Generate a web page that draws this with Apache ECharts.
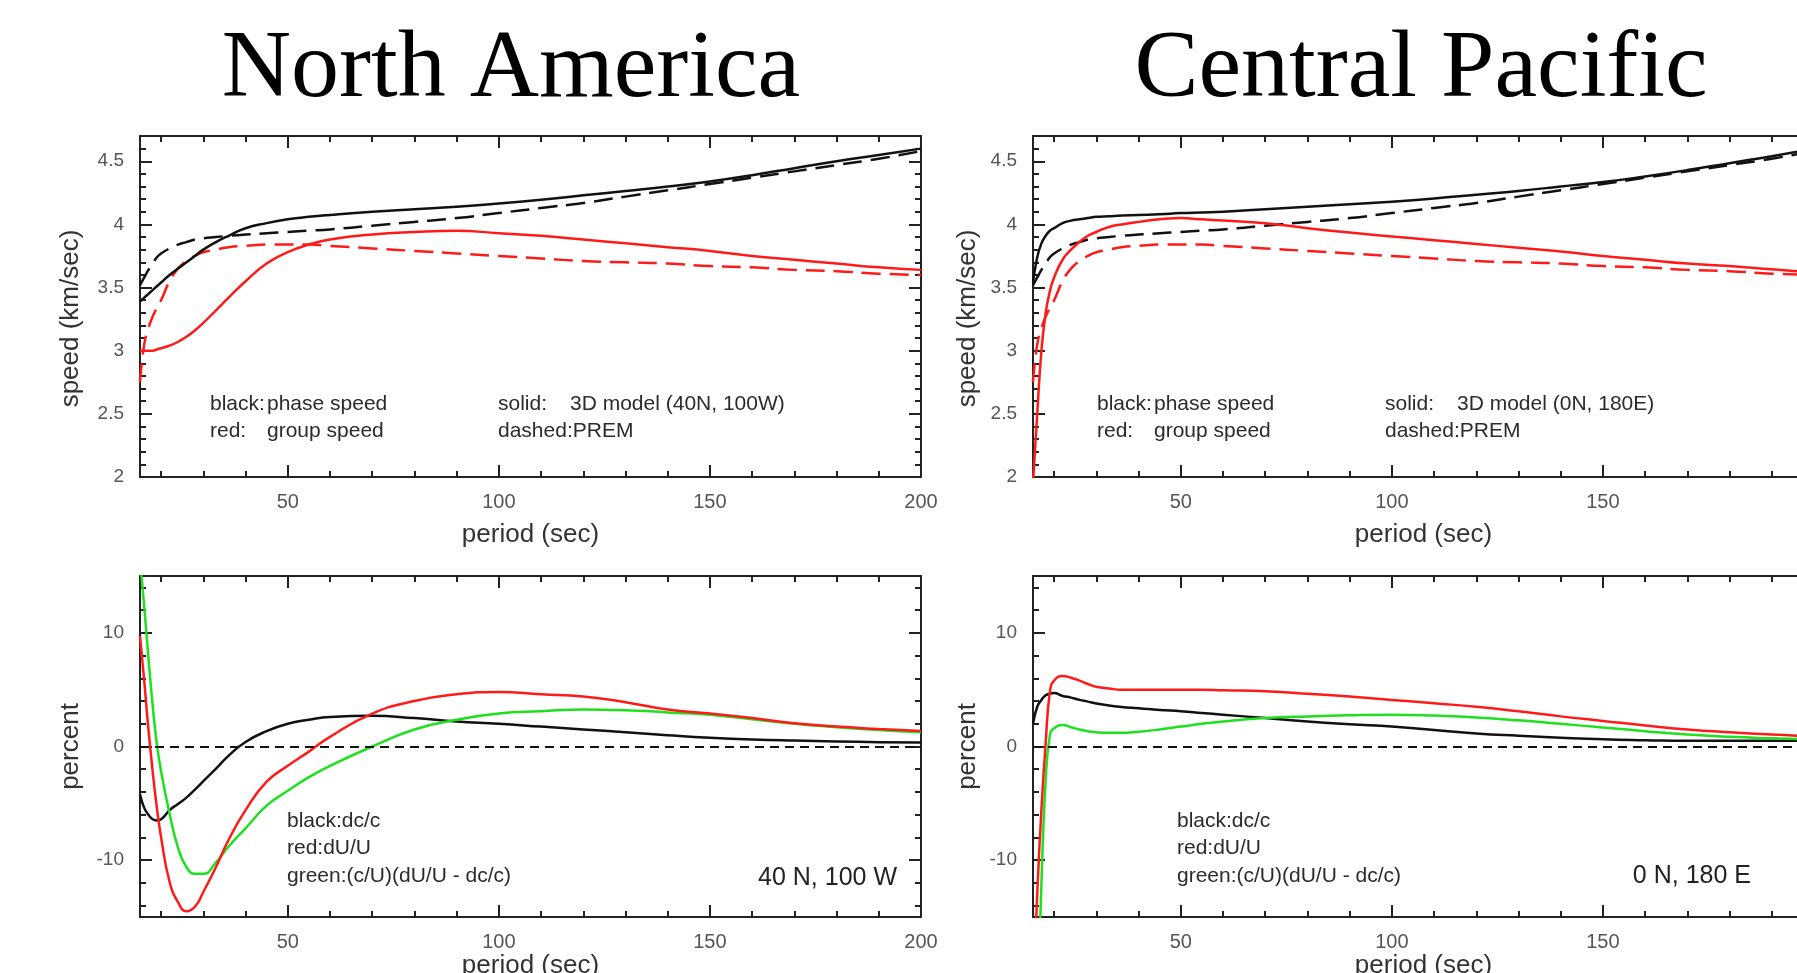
<!DOCTYPE html>
<html>
<head>
<meta charset="utf-8">
<script src="https://cdn.jsdelivr.net/npm/echarts@6.0.0/dist/echarts.min.js"></script>
<style>
html,body{margin:0;padding:0;background:#ffffff;}
#chart{width:1797px;height:973px;}
</style>
</head>
<body>
<div id="chart"></div>
<script>
// ---------- data ----------
const periods = [15,16,17,18,19,20,22,24,26,28,30,33,36,40,45,50,55,60,70,80,90,100,110,120,130,140,150,160,170,180,190,200];

// PREM (1D reference model) – same in both regions
const premPhase = [3.52,3.58,3.64,3.69,3.74,3.77,3.81,3.84,3.86,3.88,3.89,3.90,3.91,3.92,3.93,3.94,3.95,3.96,3.99,4.02,4.05,4.09,4.13,4.17,4.22,4.27,4.32,4.37,4.42,4.47,4.52,4.58];
const premGroup = [2.75,3.05,3.18,3.27,3.34,3.40,3.55,3.65,3.71,3.75,3.78,3.80,3.82,3.83,3.84,3.84,3.84,3.83,3.81,3.79,3.77,3.75,3.73,3.71,3.70,3.69,3.67,3.66,3.64,3.63,3.61,3.60];

// North America (40N, 100W) 3D model
const naPhase3D = [3.39,3.42,3.45,3.48,3.51,3.54,3.60,3.65,3.70,3.75,3.80,3.86,3.91,3.97,4.01,4.04,4.06,4.075,4.10,4.12,4.14,4.165,4.195,4.23,4.265,4.30,4.34,4.39,4.445,4.50,4.55,4.60];
const naGroup3D = [3.00,3.00,3.00,3.00,3.01,3.02,3.04,3.07,3.11,3.16,3.22,3.32,3.42,3.55,3.69,3.78,3.84,3.88,3.92,3.94,3.95,3.93,3.91,3.88,3.85,3.82,3.79,3.75,3.72,3.69,3.66,3.64];
const naDcC   = [-4.2,-5.4,-6.0,-6.4,-6.5,-6.4,-5.6,-5.05,-4.5,-3.8,-3.05,-1.95,-0.8,0.4,1.35,2.0,2.35,2.6,2.7,2.5,2.2,2.0,1.75,1.5,1.25,1.0,0.78,0.62,0.52,0.45,0.38,0.35];
const naDUU   = [9.7,5.8,1.5,-2.2,-5.4,-8.0,-11.9,-13.7,-14.5,-14.1,-12.8,-10.6,-8.2,-5.6,-3.1,-1.7,-0.45,0.85,2.9,4.0,4.6,4.8,4.6,4.4,3.9,3.25,2.9,2.5,2.05,1.75,1.55,1.37];
const naCorr  = [16.5,12.3,7.8,3.6,0.2,-2.2,-5.9,-8.9,-10.6,-11.2,-11.2,-10.2,-8.8,-7.2,-5.2,-3.9,-2.7,-1.7,0.0,1.5,2.35,2.9,3.1,3.25,3.2,3.0,2.8,2.4,2.0,1.7,1.45,1.25];

// Central Pacific (0N, 180E) 3D model
const cpPhase3D = [3.54,3.74,3.85,3.91,3.95,3.97,4.01,4.03,4.04,4.05,4.06,4.065,4.07,4.075,4.08,4.09,4.095,4.10,4.12,4.14,4.16,4.18,4.205,4.235,4.265,4.30,4.335,4.38,4.43,4.485,4.54,4.60];
const cpGroup3D = [1.95,2.5,3.0,3.3,3.47,3.58,3.72,3.80,3.86,3.91,3.94,3.98,4.00,4.02,4.04,4.05,4.04,4.03,4.01,3.97,3.935,3.905,3.875,3.845,3.815,3.785,3.75,3.72,3.69,3.67,3.645,3.62];
const cpDcC   = [2.0,3.5,4.1,4.5,4.65,4.7,4.45,4.3,4.1,3.95,3.78,3.6,3.48,3.37,3.22,3.1,2.95,2.8,2.5,2.2,1.95,1.75,1.45,1.15,0.95,0.78,0.64,0.56,0.5,0.5,0.5,0.5];
const cpDUU   = [-22,-13,-5.5,0.3,4.8,5.8,6.2,6.05,5.8,5.5,5.25,5.1,5.0,5.0,5.0,5.0,5.0,4.95,4.85,4.65,4.4,4.1,3.8,3.5,3.1,2.65,2.25,1.85,1.5,1.25,1.05,0.9];
const cpCorr  = [-35,-24,-12,-3,1.0,1.6,1.9,1.7,1.5,1.35,1.25,1.2,1.2,1.3,1.5,1.75,2.0,2.2,2.5,2.65,2.75,2.8,2.72,2.55,2.3,2.0,1.67,1.35,1.05,0.85,0.72,0.62];

// ticks
const xMajorTicks = [50,100,150,200];
const xMinorTicks = [20,30,40,60,70,80,90,110,120,130,140,160,170,180,190];
const speedTicks = [2,2.5,3,3.5,4,4.5];
const speedMinorTicks = [2.1,2.2,2.3,2.4,2.6,2.7,2.8,2.9,3.1,3.2,3.3,3.4,3.6,3.7,3.8,3.9,4.1,4.2,4.3,4.4,4.6];
const percentTicks = [-10,0,10];
const percentMinorTicks = [-14,-12,-8,-6,-4,-2,2,4,6,8,12,14];

// ---------- helpers ----------
const AX = '#222';
const zip = vals => periods.map((p, i) => [p, vals[i]]);

function xAxesFor(g, nameGap) {
  const base = {gridIndex: g, type: 'value', min: 15, max: 200, splitLine: {show: false}};
  const major = {show: true, inside: true, length: 12, customValues: xMajorTicks, lineStyle: {color: AX, width: 2}};
  const minor = {show: true, inside: true, length: 6, customValues: xMinorTicks, lineStyle: {color: AX, width: 2}};
  return [
    Object.assign({}, base, {
      position: 'bottom',
      axisLine: {show: true, onZero: false, lineStyle: {color: AX, width: 2}},
      axisTick: major,
      axisLabel: {show: true, customValues: xMajorTicks, margin: 15, fontSize: 20, color: '#555', fontFamily: 'Liberation Sans'},
      name: 'period (sec)', nameLocation: 'middle', nameGap: nameGap,
      nameTextStyle: {fontSize: 26, color: '#333', fontFamily: 'Liberation Sans'}
    }),
    Object.assign({}, base, {position: 'top', axisLine: {show: true, onZero: false, lineStyle: {color: AX, width: 2}}, axisTick: major, axisLabel: {show: false}}),
    Object.assign({}, base, {position: 'bottom', axisLine: {show: false, onZero: false}, axisTick: minor, axisLabel: {show: false}}),
    Object.assign({}, base, {position: 'top', axisLine: {show: false, onZero: false}, axisTick: minor, axisLabel: {show: false}})
  ];
}

function yAxesFor(g, min, max, ticks, minorTicks, name, nameGap, namePad) {
  const base = {gridIndex: g, type: 'value', min: min, max: max, splitLine: {show: false}};
  const major = {show: true, inside: true, length: 12, customValues: ticks, lineStyle: {color: AX, width: 2}};
  const minor = {show: true, inside: true, length: 6, customValues: minorTicks, lineStyle: {color: AX, width: 2}};
  return [
    Object.assign({}, base, {
      position: 'left',
      axisLine: {show: true, onZero: false, lineStyle: {color: AX, width: 2}},
      axisTick: major,
      axisLabel: {show: true, customValues: ticks, margin: 16, fontSize: 19, color: '#555', fontFamily: 'Liberation Sans'},
      name: name, nameLocation: 'middle', nameGap: nameGap,
      nameTextStyle: {fontSize: 26, color: '#333', fontFamily: 'Liberation Sans', padding: namePad}
    }),
    Object.assign({}, base, {position: 'right', axisLine: {show: true, onZero: false, lineStyle: {color: AX, width: 2}}, axisTick: major, axisLabel: {show: false}}),
    Object.assign({}, base, {position: 'left', axisLine: {show: false, onZero: false}, axisTick: minor, axisLabel: {show: false}}),
    Object.assign({}, base, {position: 'right', axisLine: {show: false, onZero: false}, axisTick: minor, axisLabel: {show: false}})
  ];
}

function curve(g, vals, color, dashed) {
  return {
    type: 'line', xAxisIndex: 4 * g, yAxisIndex: 4 * g,
    data: zip(vals), symbol: 'none', showSymbol: false,
    smooth: 0.5, clip: true, silent: true,
    lineStyle: {color: color, width: 2.5, type: dashed ? [19, 9] : 'solid', cap: 'butt', join: 'round'}
  };
}

const RED = '#ff1a1a', GREEN = '#1ee01e', BLACK = '#111111';

const zeroLine = {
  silent: true, symbol: 'none', animation: false,
  label: {show: false},
  lineStyle: {color: BLACK, width: 1.8, type: [9, 6]},
  data: [{yAxis: 0}]
};

// grids: 0 = NA speed, 1 = NA percent, 2 = CP speed, 3 = CP percent
const grids = [
  {left: 140, top: 136, width: 781, height: 341, outerBoundsMode: 'none', containLabel: false},
  {left: 140, top: 576, width: 781, height: 341, outerBoundsMode: 'none', containLabel: false},
  {left: 1033, top: 136, width: 781, height: 341, outerBoundsMode: 'none', containLabel: false},
  {left: 1033, top: 576, width: 781, height: 341, outerBoundsMode: 'none', containLabel: false}
];

const xAxis = [].concat(xAxesFor(0, 45), xAxesFor(1, 33), xAxesFor(2, 45), xAxesFor(3, 33));
const yAxis = [].concat(
  yAxesFor(0, 2, 4.7, speedTicks, speedMinorTicks, 'speed (km/sec)', 56, [0, 24, 0, 0]),
  yAxesFor(1, -15, 15, percentTicks, percentMinorTicks, 'percent', 56, [0, 0, 0, 0]),
  yAxesFor(2, 2, 4.7, speedTicks, speedMinorTicks, 'speed (km/sec)', 52, [0, 24, 0, 0]),
  yAxesFor(3, -15, 15, percentTicks, percentMinorTicks, 'percent', 52, [0, 0, 0, 0])
);

const naBlackBottom = curve(1, naDcC, BLACK, false);
naBlackBottom.markLine = zeroLine;
const cpBlackBottom = curve(3, cpDcC, BLACK, false);
cpBlackBottom.markLine = zeroLine;

const series = [
  curve(0, premPhase, BLACK, true),
  curve(0, premGroup, RED, true),
  curve(0, naPhase3D, BLACK, false),
  curve(0, naGroup3D, RED, false),
  naBlackBottom,
  curve(1, naCorr, GREEN, false),
  curve(1, naDUU, RED, false),
  curve(2, premPhase, BLACK, true),
  curve(2, premGroup, RED, true),
  curve(2, cpPhase3D, BLACK, false),
  curve(2, cpGroup3D, RED, false),
  cpBlackBottom,
  curve(3, cpCorr, GREEN, false),
  curve(3, cpDUU, RED, false)
];

function txt(x, y, text, size, opts) {
  opts = opts || {};
  const align = opts.align || 'left';
  return {
    type: 'text', x: x, y: y, silent: true, z: 100,
    style: {
      text: text,
      font: (opts.family === 'serif' ? size + 'px "Liberation Serif", "Times New Roman", serif' : size + 'px "Liberation Sans", Arial, sans-serif'),
      fill: opts.color || '#2b2b2b',
      align: align, textAlign: align,
      verticalAlign: 'middle', textVerticalAlign: 'middle'
    }
  };
}

const graphic = [
  txt(511, 71, 'North America', 96, {family: 'serif', align: 'center', color: '#000'}),
  txt(1421, 71, 'Central Pacific', 96, {family: 'serif', align: 'center', color: '#000'}),

  txt(210, 404, 'black:', 21), txt(267, 404, 'phase speed', 21),
  txt(210, 431, 'red:', 21), txt(267, 431, 'group speed', 21),
  txt(498, 404, 'solid:', 21), txt(570, 404, '3D model (40N, 100W)', 21),
  txt(498, 431, 'dashed:PREM', 21),

  txt(1097, 404, 'black:', 21), txt(1154, 404, 'phase speed', 21),
  txt(1097, 431, 'red:', 21), txt(1154, 431, 'group speed', 21),
  txt(1385, 404, 'solid:', 21), txt(1457, 404, '3D model (0N, 180E)', 21),
  txt(1385, 431, 'dashed:PREM', 21),

  txt(287, 821, 'black:dc/c', 21),
  txt(287, 848, 'red:dU/U', 21),
  txt(287, 876, 'green:(c/U)(dU/U - dc/c)', 21),
  txt(897, 878, '40 N, 100 W', 25, {align: 'right', color: '#222'}),

  txt(1177, 821, 'black:dc/c', 21),
  txt(1177, 848, 'red:dU/U', 21),
  txt(1177, 876, 'green:(c/U)(dU/U - dc/c)', 21),
  txt(1751, 876, '0 N, 180 E', 25, {align: 'right', color: '#222'})
];

const chart = echarts.init(document.getElementById('chart'), null, {renderer: 'canvas'});
chart.setOption({
  backgroundColor: '#ffffff',
  animation: false,
  grid: grids,
  xAxis: xAxis,
  yAxis: yAxis,
  series: series,
  graphic: graphic
});
</script>
</body>
</html>
